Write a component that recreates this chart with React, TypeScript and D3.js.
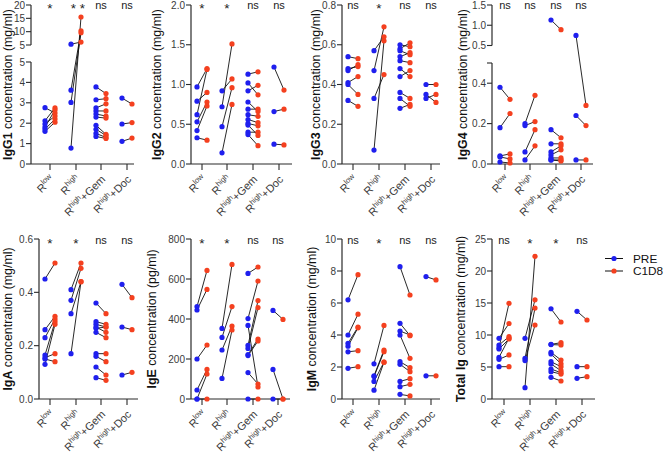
import React from "react";
import * as d3 from "d3";

const GROUP_SUPERS = ["low", "high", "high", "high"];
const GROUP_SUFFIX = ["", "", "+Gem", "+Doc"];
const SERIES = ["PRE", "C1D8"];

// IgG1 (mg/ml)
const IGG1_PRE = [[2.76, 2.12, 1.96, 1.81, 1.71, 1.6], [5.3, 3.62, 3.02, 0.78], [3.78, 3.15, 2.75, 2.6, 2.45, 2.3, 1.9, 1.7, 1.5, 1.35], [3.23, 1.96, 1.11]];
const IGG1_C1D8 = [[2.5, 2.75, 2.35, 2.65, 2.2, 2.05], [6.1, 10.3, 9.6, 15.5], [3.45, 3.2, 2.95, 2.6, 2.35, 2.25, 1.45, 1.4, 1.3, 1.25], [2.94, 2.03, 1.27]];
const IGG1_SIG = ["*", "**", "ns", "ns"];
const IGG1_TICKS_LOW = [0, 1, 2, 3, 4, 5];
const IGG1_TICKS_HIGH = [5, 10, 15, 20];

// IgG2 (mg/ml)
const IGG2_PRE = [[0.97, 0.79, 0.62, 0.53, 0.42, 0.33], [0.92, 0.72, 0.47, 0.14], [1.13, 1.02, 0.92, 0.78, 0.69, 0.62, 0.56, 0.51, 0.49, 0.4, 0.37], [1.22, 0.66, 0.25]];
const IGG2_C1D8 = [[1.2, 0.9, 1.19, 0.78, 0.73, 0.3], [1.07, 1.51, 0.96, 0.75], [1.16, 0.87, 0.99, 0.66, 0.69, 0.6, 0.52, 0.48, 0.36, 0.4, 0.23], [0.93, 0.69, 0.24]];
const IGG2_SIG = ["*", "*", "ns", "ns"];
const IGG2_TICKS = [0, 0.5, 1.0, 1.5, 2.0];

// IgG3 (mg/ml)
const IGG3_PRE = [[0.54, 0.48, 0.47, 0.41, 0.4, 0.32], [0.57, 0.47, 0.33, 0.07], [0.6, 0.58, 0.57, 0.54, 0.52, 0.48, 0.44, 0.36, 0.33, 0.28], [0.4, 0.35, 0.33]];
const IGG3_C1D8 = [[0.53, 0.49, 0.5, 0.44, 0.35, 0.29], [0.64, 0.69, 0.45, 0.62], [0.59, 0.61, 0.55, 0.56, 0.51, 0.44, 0.47, 0.33, 0.29, 0.3], [0.4, 0.31, 0.35]];
const IGG3_SIG = ["ns", "*", "ns", "ns"];
const IGG3_TICKS = [0, 0.2, 0.4, 0.6, 0.8];

// IgG4 (mg/ml)
const IGG4_PRE = [[0.38, 0.18, 0.04, 0.035, 0.01], [0.2, 0.19, 0.06, 0.02], [1.13, 0.17, 0.1, 0.06, 0.045, 0.03, 0.02, 0.02], [0.75, 0.24, 0.02]];
const IGG4_C1D8 = [[0.32, 0.25, 0.05, 0.025, 0.005], [0.34, 0.21, 0.17, 0.09], [0.89, 0.13, 0.1, 0.09, 0.07, 0.03, 0.02, 0.015], [0.29, 0.19, 0.02]];
const IGG4_SIG = ["ns", "ns", "ns", "ns"];
const IGG4_TICKS_LOW = [0, 0.2, 0.4];
const IGG4_TICKS_HIGH = [0.5, 1.0, 1.5];

// IgA (mg/ml)
const IGA_PRE = [[0.45, 0.26, 0.23, 0.165, 0.155, 0.15, 0.13], [0.41, 0.37, 0.32, 0.17], [0.36, 0.29, 0.28, 0.27, 0.265, 0.25, 0.17, 0.16, 0.12, 0.08], [0.43, 0.27, 0.09]];
const IGA_C1D8 = [[0.51, 0.31, 0.3, 0.29, 0.17, 0.14, 0.28], [0.51, 0.49, 0.44, 0.44], [0.32, 0.28, 0.27, 0.25, 0.27, 0.23, 0.17, 0.14, 0.09, 0.07], [0.38, 0.26, 0.1]];
const IGA_SIG = ["*", "*", "ns", "ns"];
const IGA_TICKS = [0, 0.2, 0.4, 0.6];

// IgE (pg/ml)
const IGE_PRE = [[462, 445, 200, 45, 0, 0], [353, 308, 245, 103], [628, 402, 368, 268, 253, 222, 217, 132, 0], [443, 148, 0]];
const IGE_C1D8 = [[643, 548, 270, 148, 125, 0], [673, 462, 365, 345], [660, 590, 60, 492, 457, 300, 290, 75, 0], [398, 0, 0]];
const IGE_SIG = ["*", "*", "ns", "ns"];
const IGE_TICKS = [0, 200, 400, 600, 800];

// IgM (mg/ml)
const IGM_PRE = [[6.2, 4.0, 3.48, 3.3, 2.95, 1.92], [2.2, 1.45, 1.4, 1.1, 0.55], [8.27, 4.73, 4.25, 4.0, 2.33, 2.17, 1.1, 0.77, 0.29], [7.65, 1.45]];
const IGM_C1D8 = [[7.77, 5.3, 4.5, 4.45, 3.02, 2.02], [4.6, 3.06, 2.96, 2.3, 2.3], [6.5, 3.96, 4.0, 2.54, 1.96, 1.71, 1.27, 0.92, 0.19], [7.44, 1.45]];
const IGM_SIG = ["ns", "*", "ns", "ns"];
const IGM_TICKS = [0, 2, 4, 6, 8, 10];

// Total Ig (mg/ml)
const TOT_PRE = [[9.48, 8.44, 8.02, 7.81, 6.51, 6.2, 5.05], [9.48, 6.35, 6.0, 1.77], [14.1, 8.54, 8.5, 7.29, 7.03, 5.83, 5.47, 4.69, 4.27, 3.39], [13.7, 5.05, 3.23]];
const TOT_C1D8 = [[11.8, 9.74, 14.95, 9.38, 9.5, 6.88, 5.05], [15.5, 14.2, 11.56, 22.3], [12.03, 8.8, 8.44, 6.09, 5.5, 5.05, 4.43, 4.1, 3.9, 2.81], [12.34, 5.05, 3.49]];
const TOT_SIG = ["ns", "*", "*", "ns"];
const TOT_TICKS = [0, 5, 10, 15, 20, 25];

const BLUE = "#1f1fee";
const RED = "#f4401f";
const AXIS = "#2a2a2a";
const FONT = "'Liberation Sans', Arial, sans-serif";

type Panel = {
  bold: string;
  unit: string;
  pre: number[][];
  post: number[][];
  sig: string[];
  ticksLow: number[];
  ticksHigh?: number[];
  domainLow: [number, number];
  domainHigh?: [number, number];
  lowTopPx?: number;
  highBottomPx?: number;
  unlabeledLowTop?: boolean;
  fmt: (v: number) => string;
  axisX: number;
  centers: number[];
  xEnd: number;
  labelX: number;
  row: number;
};

const ROWS = [
  { yTop: 5, yBottom: 164 },
  { yTop: 239, yBottom: 399 },
];

const f1 = d3.format(".1f");
const f0 = d3.format("d");

const PANELS: Panel[] = [
  { bold: "IgG1", unit: " concentration (mg/ml)", pre: IGG1_PRE, post: IGG1_C1D8, sig: IGG1_SIG, ticksLow: IGG1_TICKS_LOW, ticksHigh: IGG1_TICKS_HIGH, domainLow: [0, 5], domainHigh: [5, 20], lowTopPx: 62, highBottomPx: 45, fmt: f0, axisX: 31, centers: [50, 76, 101, 127], xEnd: 134, labelX: 12, row: 0 },
  { bold: "IgG2", unit: " concentration (mg/ml)", pre: IGG2_PRE, post: IGG2_C1D8, sig: IGG2_SIG, ticksLow: IGG2_TICKS, domainLow: [0, 2], fmt: f1, axisX: 191, centers: [202, 227, 253, 279], xEnd: 292, labelX: 161, row: 0 },
  { bold: "IgG3", unit: " concentration (mg/ml)", pre: IGG3_PRE, post: IGG3_C1D8, sig: IGG3_SIG, ticksLow: IGG3_TICKS, domainLow: [0, 0.8], fmt: f1, axisX: 342, centers: [353, 379, 405, 431], xEnd: 440, labelX: 320, row: 0 },
  { bold: "IgG4", unit: " concentration (mg/ml)", pre: IGG4_PRE, post: IGG4_C1D8, sig: IGG4_SIG, ticksLow: IGG4_TICKS_LOW, ticksHigh: IGG4_TICKS_HIGH, domainLow: [0, 0.5], domainHigh: [0.5, 1.5], lowTopPx: 63, highBottomPx: 45.5, unlabeledLowTop: true, fmt: f1, axisX: 492, centers: [505, 530, 556, 581], xEnd: 593, labelX: 467, row: 0 },
  { bold: "IgA", unit: " concentration (mg/ml)", pre: IGA_PRE, post: IGA_C1D8, sig: IGA_SIG, ticksLow: IGA_TICKS, domainLow: [0, 0.6], fmt: f1, axisX: 39, centers: [50, 76, 101, 127], xEnd: 138, labelX: 12, row: 1 },
  { bold: "IgE", unit: " concentration (pg/ml)", pre: IGE_PRE, post: IGE_C1D8, sig: IGE_SIG, ticksLow: IGE_TICKS, domainLow: [0, 800], fmt: f0, axisX: 191, centers: [202, 227, 253, 278], xEnd: 290, labelX: 156, row: 1 },
  { bold: "IgM", unit: " concentration (mg/ml)", pre: IGM_PRE, post: IGM_C1D8, sig: IGM_SIG, ticksLow: IGM_TICKS, domainLow: [0, 10], fmt: f0, axisX: 342, centers: [353, 379, 405, 431], xEnd: 440, labelX: 316, row: 1 },
  { bold: "Total Ig", unit: " concentration (mg/ml)", pre: TOT_PRE, post: TOT_C1D8, sig: TOT_SIG, ticksLow: TOT_TICKS, domainLow: [0, 25], fmt: f0, axisX: 492, centers: [504, 530, 556, 582], xEnd: 595, labelX: 465, row: 1 },
];

function SigMark({ x, y, s }: { x: number; y: number; s: string }) {
  if (s === "ns") {
    return (
      <text x={x} y={y} textAnchor="middle" fontSize={11} fill="#222">
        ns
      </text>
    );
  }
  const n = s.length;
  const gap = 9;
  return (
    <g>
      {d3.range(n).map((i) => (
        <text key={i} x={x + (n > 1 ? 2 : 0) + (i - (n - 1) / 2) * gap} y={y + 4.5} textAnchor="middle" fontSize={13.5} fill="#222">
          *
        </text>
      ))}
    </g>
  );
}

function XLabel({ c, yBottom, i }: { c: number; yBottom: number; i: number }) {
  return (
    <g transform={`translate(${c + 5},${yBottom + 16})`}>
      <g transform="rotate(-45)">
        <text x={0} y={0} textAnchor="end" fontSize={11} fill="#3a3a3a">
          R<tspan fontSize={7.5} dy={-4.5}>{GROUP_SUPERS[i]}</tspan>
          {GROUP_SUFFIX[i] !== "" && <tspan dy={4.5}>{GROUP_SUFFIX[i]}</tspan>}
        </text>
      </g>
    </g>
  );
}

function PanelView({ p }: { p: Panel }) {
  const { yTop, yBottom } = ROWS[p.row];
  const broken = !!p.domainHigh;
  const lowScale = d3.scaleLinear().domain(p.domainLow).range([yBottom, broken ? p.lowTopPx! : yTop]);
  const highScale = broken ? d3.scaleLinear().domain(p.domainHigh!).range([p.highBottomPx!, yTop]) : null;
  const y = (v: number) => (broken && v > p.domainLow[1] ? highScale!(v) : lowScale(v));
  const off = 5;
  const ax = p.axisX;

  const tickEls: React.ReactNode[] = [];
  const addTick = (yy: number, label: string, key: string) => {
    tickEls.push(
      <g key={key}>
        <line x1={ax - 5} x2={ax} y1={yy} y2={yy} stroke={AXIS} strokeWidth={1.1} />
        {label !== "" && (
          <text x={ax - 6} y={yy} dy="0.35em" textAnchor="end" fontSize={10} fill="#3a3a3a">
            {label}
          </text>
        )}
      </g>
    );
  };
  p.ticksLow.forEach((t, i) => addTick(lowScale(t), p.fmt(t), "l" + i));
  if (broken) {
    if (p.unlabeledLowTop) addTick(lowScale(p.domainLow[1]), "", "lt");
    p.ticksHigh!.forEach((t, i) => addTick(highScale!(t), p.fmt(t), "h" + i));
  }

  const axisLines = broken ? (
    <>
      <line x1={ax} x2={ax} y1={yBottom} y2={p.lowTopPx!} stroke={AXIS} strokeWidth={1.2} />
      <line x1={ax} x2={ax} y1={p.highBottomPx!} y2={yTop} stroke={AXIS} strokeWidth={1.2} />
    </>
  ) : (
    <line x1={ax} x2={ax} y1={yBottom} y2={yTop} stroke={AXIS} strokeWidth={1.2} />
  );

  const sigY = p.row === 0 ? 8.5 : 243.5;

  return (
    <g>
      {axisLines}
      {tickEls}
      <line x1={ax} x2={p.xEnd} y1={yBottom} y2={yBottom} stroke={AXIS} strokeWidth={1.2} />
      {p.centers.map((c, i) => (
        <g key={"xt" + i}>
          <line x1={c} x2={c} y1={yBottom} y2={yBottom + 6} stroke={AXIS} strokeWidth={1.1} />
          <XLabel c={c} yBottom={yBottom} i={i} />
          <SigMark x={c} y={sigY} s={p.sig[i]} />
        </g>
      ))}
      {p.pre.map((arr, g) =>
        arr.map((v, k) => (
          <line key={`ln${g}-${k}`} x1={p.centers[g] - off} y1={y(v)} x2={p.centers[g] + off} y2={y(p.post[g][k])} stroke="#111" strokeWidth={0.9} />
        ))
      )}
      {p.pre.map((arr, g) =>
        arr.map((v, k) => <circle key={`pa${g}-${k}`} cx={p.centers[g] - off} cy={y(v)} r={2.6} fill={BLUE} />)
      )}
      {p.post.map((arr, g) =>
        arr.map((v, k) => <circle key={`pb${g}-${k}`} cx={p.centers[g] + off} cy={y(v)} r={2.6} fill={RED} />)
      )}
      <text transform={`translate(${p.labelX},${(yTop + yBottom) / 2}) rotate(-90)`} textAnchor="middle" fontSize={12.4} fill="#111">
        <tspan fontWeight="bold">{p.bold}</tspan>
        {p.unit}
      </text>
    </g>
  );
}

export default function App() {
  const legendY = [258.5, 271];
  const colors = [BLUE, RED];
  return (
    <div style={{ position: "absolute", left: 0, top: 0 }}>
      <svg width={666} height={454} style={{ display: "block", background: "#fff", fontFamily: FONT }}>
        {PANELS.map((p, i) => (
          <PanelView key={i} p={p} />
        ))}
        {SERIES.map((s, i) => (
          <g key={s}>
            <line x1={605} x2={623} y1={legendY[i]} y2={legendY[i]} stroke="#111" strokeWidth={1} />
            <circle cx={614} cy={legendY[i]} r={2.6} fill={colors[i]} />
            <text x={633} y={legendY[i]} dy="0.36em" fontSize={11.8} fill="#111">
              {s}
            </text>
          </g>
        ))}
      </svg>
    </div>
  );
}
